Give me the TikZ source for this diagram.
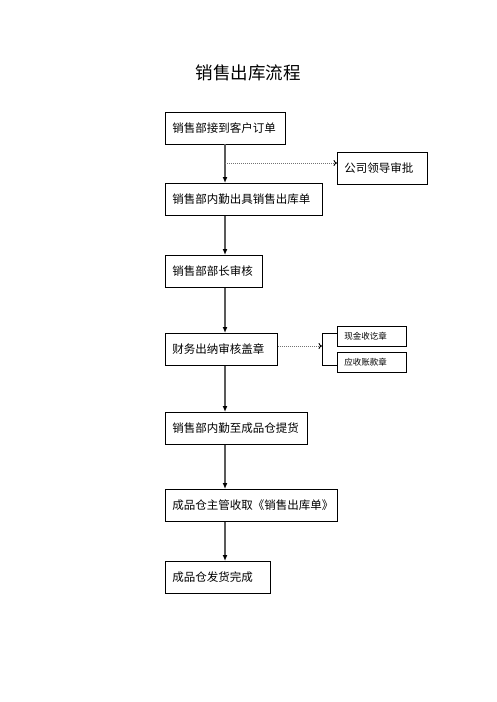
\documentclass[tikz,border=0pt]{standalone}
\usepackage{fontspec}
\setmainfont{Noto Sans CJK SC}
\usetikzlibrary{arrows.meta}
\begin{document}
\begin{tikzpicture}[x=1pt,y=-1pt,
  box/.style={draw=black,line width=0.8pt,rectangle,inner xsep=7pt,inner ysep=0pt,minimum height=32pt,align=left,font=\fontsize{11.5pt}{13pt}\selectfont,anchor=north west},
  sbox/.style={draw=black,line width=0.8pt,rectangle,inner xsep=7pt,inner ysep=0pt,minimum height=20pt,align=left,font=\fontsize{8.5pt}{10pt}\selectfont,anchor=north west,text width=55pt},
  flow/.style={draw=black!65,line width=1.4pt,-{Latex[black,length=6pt,width=5pt]}},
  dflow/.style={draw=black!55,line width=1pt,densely dotted,-{To[black,length=3.5pt,width=6pt,line width=0.9pt]}}
]
\useasboundingbox (0,0) rectangle (496,702);
\node[font=\fontsize{17.5pt}{20pt}\selectfont] (title) at (248,73) {销售出库流程};
\node[box,text width=106pt] (b1) at (165,112) {销售部接到客户订单};
\node[box,text width=76pt] (lead) at (337,152) {公司领导审批};
\node[box,text width=143pt] (b2) at (165,183) {销售部内勤出具销售出库单};
\node[box,text width=83pt] (b3) at (165,255) {销售部部长审核};
\node[box,text width=98pt] (b4) at (165,333) {财务出纳审核盖章};
\node[sbox] (s1) at (337,326) {现金收讫章};
\node[sbox] (s2) at (337,352) {应收账款章};
\node[box,text width=128pt] (b5) at (165,412) {销售部内勤至成品仓提货};
\node[box,text width=158pt] (b6) at (165,489) {成品仓主管收取《销售出库单》};
\node[box,text width=91pt] (b7) at (165,561) {成品仓发货完成};
% main flow
\coordinate (c1) at (225,144);
\draw[flow] (c1) -- (b1.south -| c1) -- (b2.north -| c1);
\draw[flow] (b2.south -| c1) -- (b3.north -| c1);
\draw[flow] (b3.south -| c1) -- (b4.north -| c1);
\draw[flow] (b4.south -| c1) -- (b5.north -| c1);
\draw[flow] (b5.south -| c1) -- (b6.north -| c1);
\draw[flow] (b6.south -| c1) -- (b7.north -| c1);
% side branches
\coordinate (d1) at (225,163);
\draw[dflow] (d1) -- (d1 -| lead.west);
\coordinate (br) at (322,346);
\draw[dflow] (b4.east |- br) -- (br);
\coordinate (brt) at (322,333);
\coordinate (brb) at (322,365);
\draw[line width=0.8pt] (s1.west |- brt) -- (brt) -- (brb) -- (s2.west |- brb);
\end{tikzpicture}
\end{document}
